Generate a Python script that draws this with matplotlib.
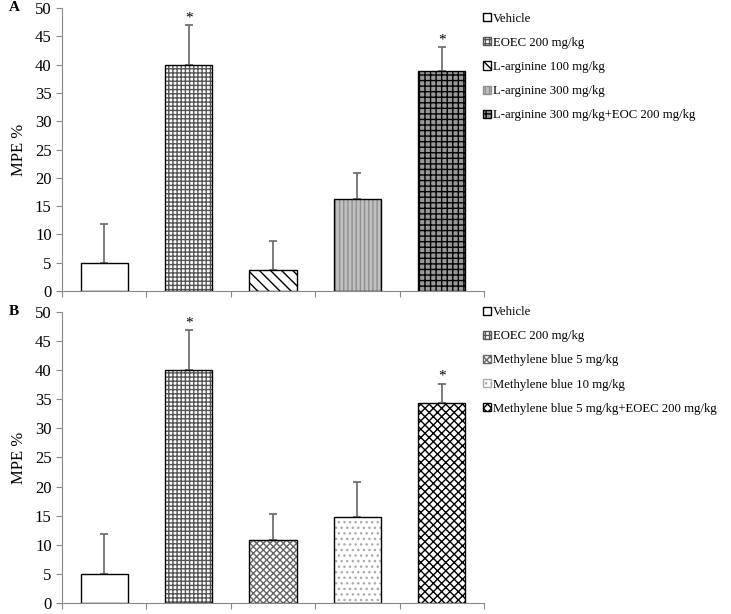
import matplotlib.pyplot as plt
from matplotlib.patches import Patch
import numpy as np

plt.rcParams['font.family'] = ['Liberation Serif', 'DejaVu Serif']
plt.rcParams['hatch.linewidth'] = 1.0

# Dados
labels_a = ['Vehicle', 'EOEC 200 mg/kg', 'L-arginine 100 mg/kg', 'L-arginine 300 mg/kg',
            'L-arginine 300 mg/kg+EOC 200 mg/kg']
mean_a = [5.0, 40.0, 3.8, 16.2, 38.8]
err_a = [6.8, 7.0, 5.0, 4.7, 4.3]
star_a = [False, True, False, False, True]

labels_b = ['Vehicle', 'EOEC 200 mg/kg', 'Methylene blue 5 mg/kg', 'Methylene blue 10 mg/kg',
            'Methylene blue 5 mg/kg+EOEC 200 mg/kg']
mean_b = [5.0, 40.0, 10.9, 14.8, 34.3]
err_b = [6.8, 6.9, 4.4, 6.0, 3.4]
star_b = [False, True, False, False, True]

# estilos: (cor de fundo, hachura, cor da hachura)
estilos_a = [('white', '', 'black'), ('white', '++++', '#555555'), ('white', '\\\\\\', 'black'),
             ('#c0c0c0', '||||', '#909090'), ('#999999', '+++', 'black')]
estilos_b = [('white', '', 'black'), ('white', '++++', '#555555'), ('white', 'xxxxx', '#666666'),
             ('white', '...', '#aaaaaa'), ('white', 'xxxx', 'black')]


def painel(ax, medias, erros, estrelas, estilos, labels, letra, y_leg):
    x = np.arange(len(medias))
    for i in range(len(medias)):
        fc, h, hc = estilos[i]
        ax.bar(x[i], medias[i], width=0.56, color=fc, edgecolor=hc, hatch=h, linewidth=0, zorder=2)
        ax.bar(x[i], medias[i], width=0.56, fill=False, edgecolor='black', linewidth=1.0, zorder=3)
    ax.errorbar(x, medias, yerr=[np.zeros(len(erros)), erros], fmt='none', ecolor='#666666',
                elinewidth=1.2, capsize=3, capthick=1.2, zorder=1)
    for i in range(len(medias)):
        if estrelas[i]:
            ax.text(x[i], medias[i] + erros[i] + 1.2, '*', ha='center', va='center', fontsize=11)
    ax.set_xlim(-0.5, 4.5)
    ax.set_ylim(0, 50)
    ax.set_yticks(range(0, 51, 5))
    ax.set_xticks(np.arange(-0.5, 5, 1))
    ax.set_xticklabels([])
    ax.tick_params(axis='both', colors='#888888', labelcolor='black', labelsize=12, length=4)
    ax.spines['top'].set_visible(False)
    ax.spines['right'].set_visible(False)
    ax.spines['left'].set_color('#888888')
    ax.spines['bottom'].set_color('#888888')
    ax.set_ylabel('MPE %', fontsize=12, labelpad=6)
    handles = [Patch(facecolor=e[0], edgecolor=e[2] if e[1] else 'black', hatch=e[1]) for e in estilos]
    fig.legend(handles, labels, loc='upper left', bbox_to_anchor=(0.645, y_leg), frameon=False,
               fontsize=9.2, handlelength=0.6, handleheight=0.6, handletextpad=0.15, labelspacing=0.95)
    fig.text(0.012, ax.get_position().y1, letra, fontsize=11, fontweight='bold', va='center')


fig = plt.figure(figsize=(7.31, 6.14), dpi=100)
ax1 = fig.add_axes([0.085, 0.526, 0.577, 0.461])
ax2 = fig.add_axes([0.085, 0.018, 0.577, 0.474])
painel(ax1, mean_a, err_a, star_a, estilos_a, labels_a, 'A', 0.998)
painel(ax2, mean_b, err_b, star_b, estilos_b, labels_b, 'B', 0.52)

fig.savefig('out.png', dpi=100)
